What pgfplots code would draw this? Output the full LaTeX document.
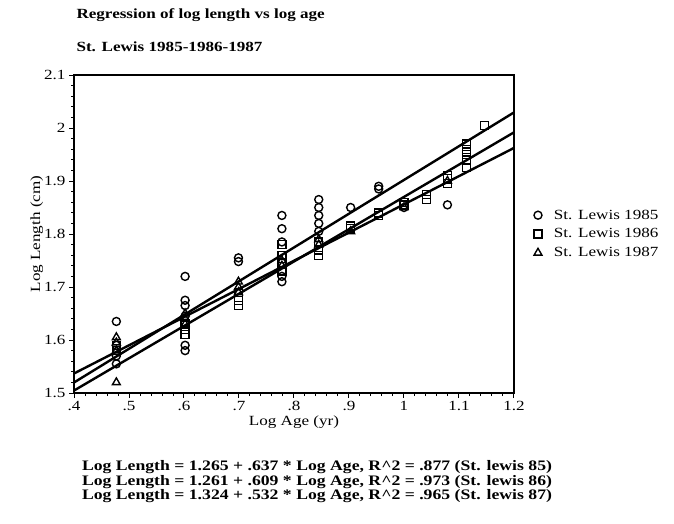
\documentclass[border=0pt]{standalone}
\usepackage{pgfplots}
\pgfplotsset{compat=1.18}
\usepackage{fontspec}
\setmainfont{Liberation Serif}
\newfontfamily\wide{Liberation Serif}[FakeStretch=1.22]
\begin{document}
\begin{tikzpicture}[x=1pt,y=1pt]
\useasboundingbox (0,0) rectangle (674,523);
\node[anchor=west,font=\wide\fontsize{14}{15}\selectfont\bfseries] at (73,508) {Regression of log length vs log age};
\node[anchor=west,font=\wide\fontsize{14}{15}\selectfont\bfseries] at (73,476) {St. Lewis 1985-1986-1987};
\begin{axis}[
  at={(74pt,130pt)}, anchor=south west,
  width=440pt, height=318pt, scale only axis,
  xmin=0.4, xmax=1.2, ymin=1.5, ymax=2.1,
  xtick={0.4,0.5,0.6,0.7,0.8,0.9,1.0,1.1,1.2},
  xticklabels={.4,.5,.6,.7,.8,.9,1,1.1,1.2},
  ytick={1.5,1.6,1.7,1.8,1.9,2.0,2.1},
  yticklabels={1.5,1.6,1.7,1.8,1.9,2,2.1},
  minor x tick num=4, minor y tick num=4,
  tick align=outside, xtick pos=bottom, ytick pos=left,
  major tick length=5pt, minor tick length=3pt,
  axis line style={line width=1.4pt},
  every tick/.style={black, line width=1pt},
  tick label style={font=\wide\fontsize{14}{16}\selectfont},
  /pgf/number format/assume math mode=true,
  xlabel={Log Age (yr)}, ylabel={Log Length (cm)},
  label style={font=\wide\fontsize{14}{16}\selectfont},
  xlabel style={yshift=2pt},
  ylabel style={yshift=-6pt},
  legend style={at={(axis description cs:1.045,0.5)}, anchor=west, draw=none, fill=none,
    font=\wide\fontsize{14}{16}\selectfont, row sep=4pt, inner sep=0pt,
    /tikz/column 1/.style={column sep=10pt}},
  legend cell align=left,
  clip=false,
]
\addplot[only marks, mark=o, mark size=4pt, black, line width=1.4pt] coordinates {
(0.477,1.635)(0.477,1.57)(0.477,1.555)(0.477,1.59)
(0.602,1.72)(0.602,1.675)(0.602,1.665)(0.602,1.645)(0.602,1.59)(0.602,1.58)
(0.699,1.755)(0.699,1.748)
(0.778,1.835)(0.778,1.81)(0.778,1.785)(0.778,1.72)(0.778,1.71)
(0.845,1.865)(0.845,1.85)(0.845,1.835)(0.845,1.82)(0.845,1.805)
(0.903,1.85)
(0.954,1.89)(0.954,1.885)
(1.0,1.85)
(1.079,1.855)
};
\addlegendentry{St. Lewis 1985}
\addplot[only marks, mark=square, mark size=4pt, black, line width=1.4pt] coordinates {
(0.477,1.58)(0.477,1.59)
(0.602,1.62)(0.602,1.63)(0.602,1.61)
(0.699,1.665)(0.699,1.675)(0.699,1.69)
(0.778,1.78)(0.778,1.76)(0.778,1.745)(0.778,1.73)
(0.845,1.785)(0.845,1.77)(0.845,1.76)
(0.903,1.81)(0.903,1.815)
(0.954,1.835)(0.954,1.84)
(1.0,1.855)(1.0,1.86)
(1.041,1.875)(1.041,1.865)
(1.079,1.905)(1.079,1.895)(1.079,1.91)
(1.114,1.97)(1.114,1.96)(1.114,1.95)(1.114,1.94)(1.114,1.925)
(1.146,2.005)
};
\addlegendentry{St. Lewis 1986}
\addplot[only marks, mark=triangle, mark size=4.5pt, black, line width=1.4pt] coordinates {
(0.477,1.52)(0.477,1.605)(0.477,1.595)(0.477,1.58)
(0.602,1.64)(0.602,1.65)(0.602,1.63)
(0.699,1.70)(0.699,1.71)(0.699,1.69)
(0.778,1.74)(0.778,1.75)
(0.845,1.79)(0.845,1.78)
(0.903,1.805)
(1.0,1.85)
(1.079,1.90)
};
\addlegendentry{St. Lewis 1987}
\addplot[black, line width=2.4pt, forget plot] coordinates {(0.4,1.5198)(1.2,2.0294)};
\addplot[black, line width=2.4pt, forget plot] coordinates {(0.4,1.5046)(1.2,1.9918)};
\addplot[black, line width=2.4pt, forget plot] coordinates {(0.4,1.5368)(1.2,1.9624)};
\end{axis}
\node[anchor=center,align=left,font=\wide\fontsize{14.5}{14.5}\selectfont\bfseries] at (317,41) {%
Log Length = 1.265 + .637 * Log Age, R\textasciicircum2 = .877 (St. lewis 85)\\
Log Length = 1.261 + .609 * Log Age, R\textasciicircum2 = .973 (St. lewis 86)\\
Log Length = 1.324 + .532 * Log Age, R\textasciicircum2 = .965 (St. lewis 87)};
\end{tikzpicture}
\end{document}
